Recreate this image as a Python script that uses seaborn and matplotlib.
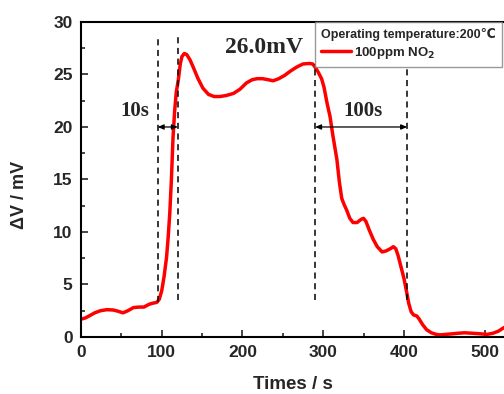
import matplotlib
matplotlib.use('Agg')
import matplotlib.pyplot as plt
from matplotlib.ticker import MultipleLocator
import seaborn as sns
import pandas as pd

# response curve
times = [0, 5, 10, 17, 24, 32, 40, 46, 52, 58, 65, 72, 78, 84, 88, 94, 97, 100, 103, 106,
         108, 110, 112, 114, 116, 118, 120.6, 123, 125, 128, 131, 135, 139, 145, 151, 158,
         165, 172, 180, 189, 197, 205, 212, 218, 225, 232, 238, 245, 252, 259, 267, 275,
         283, 287, 290, 294, 298, 301, 305, 308.5, 312, 317, 320, 323, 326, 329, 333, 337,
         342, 347, 350, 353, 357, 362, 367, 373, 378, 383, 387, 390, 393, 396, 400, 403.6,
         406, 409, 412, 416, 419, 423, 428, 434, 440, 445, 452, 460, 466, 475, 486, 495,
         503, 510, 517, 524]
delta_v = [1.7, 1.8, 2.0, 2.3, 2.5, 2.6, 2.57, 2.45, 2.3, 2.5, 2.8, 2.85, 2.85, 3.1, 3.2,
           3.3, 3.6, 4.4, 5.8, 7.6, 9.5, 11.8, 15, 19, 21.5, 23.3, 24.5, 26.0, 26.7, 27.0,
           26.9, 26.4, 25.7, 24.6, 23.7, 23.1, 22.9, 22.9, 23.0, 23.2, 23.6, 24.2, 24.5,
           24.6, 24.6, 24.5, 24.4, 24.6, 24.9, 25.3, 25.7, 26.0, 26.05, 26.0, 25.7, 25.2,
           24.6, 23.8, 22.2, 21.0, 19.2, 16.9, 14.8, 13.2, 12.6, 12.1, 11.3, 10.9, 10.9,
           11.2, 11.3, 11.0, 10.2, 9.3, 8.6, 8.1, 8.2, 8.4, 8.6, 8.4, 7.7, 6.8, 5.6, 4.2,
           3.2, 2.4, 2.1, 2.0, 1.7, 1.2, 0.7, 0.4, 0.25, 0.2, 0.25, 0.3, 0.35, 0.4, 0.35,
           0.3, 0.25, 0.35, 0.55, 0.9]

# dashed guide lines: (x, y_top, y_bottom)
guides = [(95, 28.8, 3.3), (120, 28.8, 3.5), (290, 26.0, 3.5), (404, 25.8, 3.5)]
# response / recovery time markers
spans = [(95, 120, "10s", 67), (290, 404, "100s", 349)]
peak_label = "26.0mV"

df = pd.DataFrame({"Times": times, "dV": delta_v})

sns.set_style("ticks")
plt.rcParams['font.family'] = ['Liberation Sans', 'DejaVu Sans']
plt.rcParams['font.weight'] = 'bold'

fig = plt.figure(figsize=(5.04, 3.94), dpi=100)
ax = fig.add_axes([0.1607, 0.1447, 0.8393, 0.7995])

sns.lineplot(data=df, x="Times", y="dV", color="red", linewidth=2.5,
             label="100ppm NO$_2$", ax=ax)

for gx, gtop, gbot in guides:
    ax.plot([gx, gx], [gbot, gtop], color="black", linestyle=(0, (4, 3)), linewidth=1.1)

for x0, x1, txt, tx in spans:
    ax.annotate("", xy=(x0, 20), xytext=(x1, 20),
                arrowprops=dict(arrowstyle="<|-|>,head_length=0.35,head_width=0.15",
                                color="black", lw=0.9, shrinkA=0, shrinkB=0))
    ax.text(tx, 21.5, txt, ha="center", va="center", fontsize=15,
            family="Liberation Serif", fontweight="bold")

ax.text(227, 27.6, peak_label, ha="center", va="center", fontsize=17,
        family="Liberation Serif", fontweight="bold")

ax.set_xlim(0, 524)
ax.set_ylim(0, 30)
ax.xaxis.set_major_locator(MultipleLocator(100))
ax.xaxis.set_minor_locator(MultipleLocator(50))
ax.yaxis.set_major_locator(MultipleLocator(5))
ax.yaxis.set_minor_locator(MultipleLocator(2.5))
ax.tick_params(which="major", direction="in", length=5, width=1.2, labelsize=12.5, pad=6)
ax.tick_params(which="minor", direction="in", length=3, width=1.2)
for lab in ax.get_xticklabels() + ax.get_yticklabels():
    lab.set_fontweight("bold")

ax.set_xlabel("Times / s", fontsize=13.5, fontweight="bold", labelpad=11)
ax.set_ylabel("ΔV / mV", fontsize=13, fontweight="bold", labelpad=16)
ax.yaxis.set_label_coords(-0.125, 0.45)

for side in ["left", "bottom", "top"]:
    ax.spines[side].set_linewidth(1.5)
    ax.spines[side].set_color("black")
ax.spines["right"].set_visible(False)

leg = ax.legend(loc="upper left", bbox_to_anchor=(290, 30), bbox_transform=ax.transData,
                title="Operating temperature:200℃", fontsize=9.5, title_fontsize=9,
                frameon=True, fancybox=False, edgecolor="#808080", borderaxespad=0,
                handlelength=2.3, handletextpad=0.2, borderpad=0.45, labelspacing=0.3,
                alignment="left")
leg.get_frame().set_linewidth(1.0)
leg.get_title().set_fontweight("bold")
for t in leg.get_texts():
    t.set_fontweight("bold")

fig.savefig("out.png", dpi=100)
plt.close(fig)
